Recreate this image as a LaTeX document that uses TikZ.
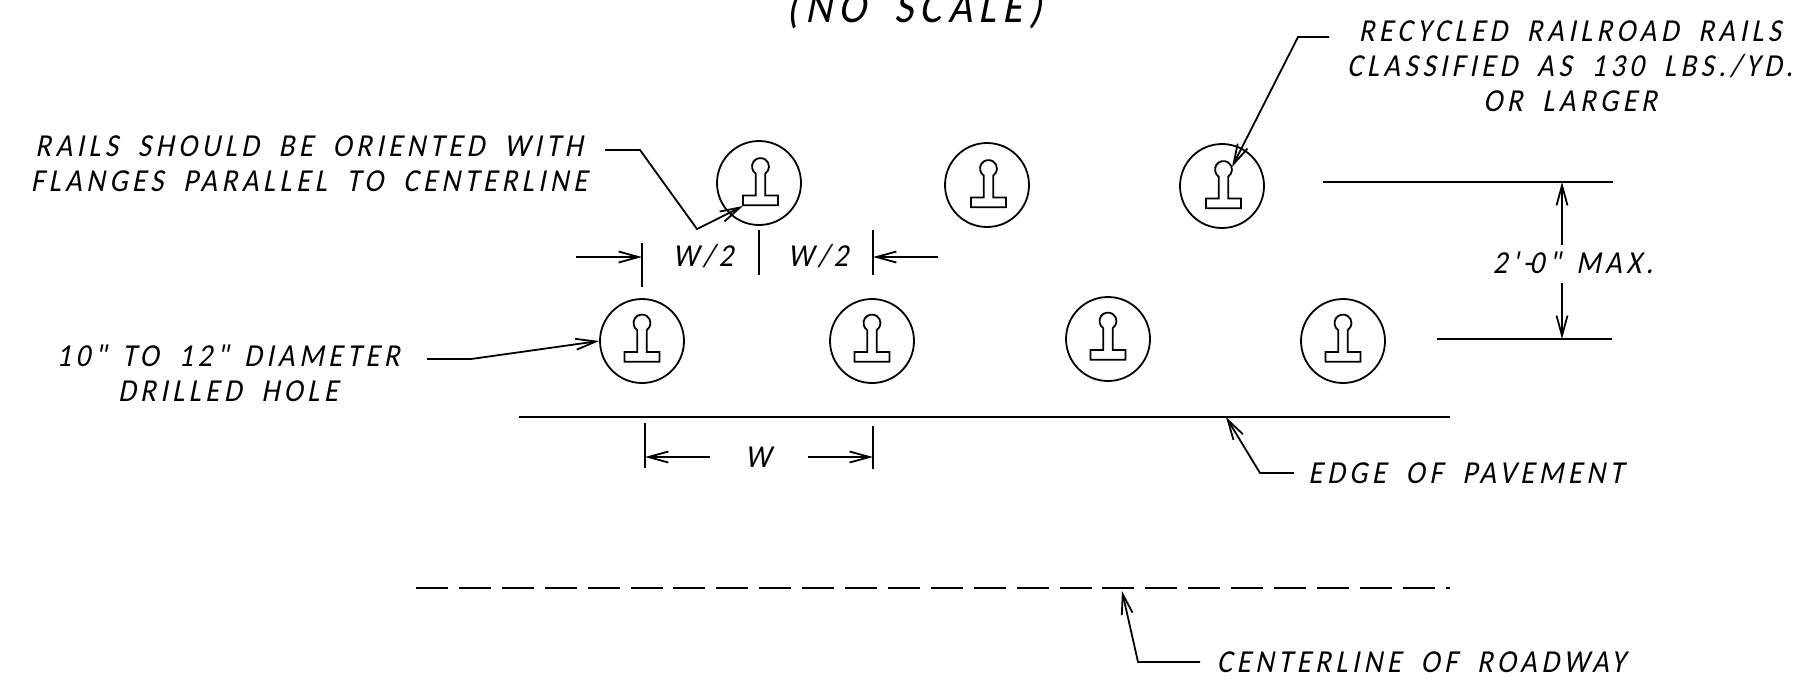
\documentclass[tikz,border=0pt]{standalone}
\usepackage{fontspec}
\usetikzlibrary{arrows.meta}
\newfontfamily\cadfont[FakeSlant=0.2,LetterSpace=14,FakeStretch=0.9,WordSpace=1.8]{Carlito}
\tikzset{
  hole/.style={circle, draw, minimum size=42pt, inner sep=0},
  lbl/.style={font=\cadfont\fontsize{16}{17.5}\selectfont, align=center, inner sep=0},
  pics/rail/.style={code={
    \draw (-4.7,11) -- (-4.7,-10.9) arc (123.5:416.5:8.5) -- (4.7,11)
      -- (17.5,11) -- (17.5,20.7) -- (-17.5,20.7) -- (-17.5,11) -- cycle;
  }}
}
\begin{document}
\begin{tikzpicture}[x=0.5pt, y=-0.5pt, line width=0.9pt, >={Straight Barb[length=10pt, width=5.5pt]}]
  \useasboundingbox (0,0) rectangle (1804,682);
  \foreach \n/\x/\y/\d in {1/759/183/1.5, 2/987/185/1.5, 3/1222/186/1.5, 4/642/341/0, 5/872/341/0, 6/1108/339/0, 7/1343/341/0} {
    \node[hole] (h\n) at (\x,\y) {};
    \pic at (\x+\d,\y+\d) {rail};
  }
  \node[lbl, font=\cadfont\fontsize{23}{25}\selectfont, anchor=base] (title) at (914,22) {(NO SCALE)};
  \node[lbl] (t1) at (1570,66) {RECYCLED RAILROAD RAILS\\CLASSIFIED AS 130 LBS./YD.\\OR LARGER};
  \node[lbl] (t2) at (309,164) {RAILS SHOULD BE ORIENTED WITH\\FLANGES PARALLEL TO CENTERLINE};
  \node[lbl] (t3) at (228,373) {10"\kern-2pt{} TO 12"\kern-2pt{} DIAMETER\\DRILLED HOLE};
  \node[lbl] (t4) at (1466,473) {EDGE OF PAVEMENT};
  \node[lbl] (t5) at (1421,662) {CENTERLINE OF ROADWAY};
  \node[lbl] (t6) at (1573,263) {2'-\kern-1pt{}0"\kern-2pt{} MAX.};
  \node[lbl] (w1) at (703,256) {W/2};
  \node[lbl] (w2) at (818,256) {W/2};
  \node[lbl] (w3) at (758,457) {W};

  \coordinate (a1) at (1329,37);
  \coordinate (a2) at (605,150);
  \coordinate (a3) at (427,359);
  \coordinate (a4) at (1294,473);
  \coordinate (a5) at (1200,662);
  \draw[->] (a1) -- (1298,37) -- (1232,167);
  \draw[->] (a2) -- (640,150) -- (697,229) -- (743,206);
  \draw[->] (a3) -- (471,359) -- (h4.west);
  \draw[->] (a4) -- (1260,473) -- (1226,417);
  \draw[->] (a5) -- (1138,662) -- (1122,591);

  \coordinate (e1) at (519,417);
  \coordinate (e2) at (1450,417);
  \draw (e1) -- (e2);
  \coordinate (c1) at (416,588);
  \coordinate (c2) at (1450,588);
  \draw[dash pattern=on 16pt off 5.45pt] (c1) -- (c2);

  \coordinate (d1) at (1323,182);
  \coordinate (d2) at (1613,182);
  \coordinate (d3) at (1437,339);
  \coordinate (d4) at (1612,339);
  \draw (d1) -- (d2);
  \draw (d3) -- (d4);
  \coordinate (d5) at (1562,245);
  \coordinate (d6) at (1562,283);
  \draw[->] (d5) -- (d1 -| d5);
  \draw[->] (d6) -- (d3 -| d6);

  \draw (642,243) -- (642,287);
  \draw (759,230) -- (759,275);
  \draw (873,230) -- (873,275);
  \draw[->] (576,257) -- (642,257);
  \draw[->] (938,257) -- (873,257);
  \draw (645,423) -- (645,468);
  \draw (873,426) -- (873,469);
  \draw[->] (710,457) -- (645,457);
  \draw[->] (808,457) -- (873,457);
\end{tikzpicture}
\end{document}
